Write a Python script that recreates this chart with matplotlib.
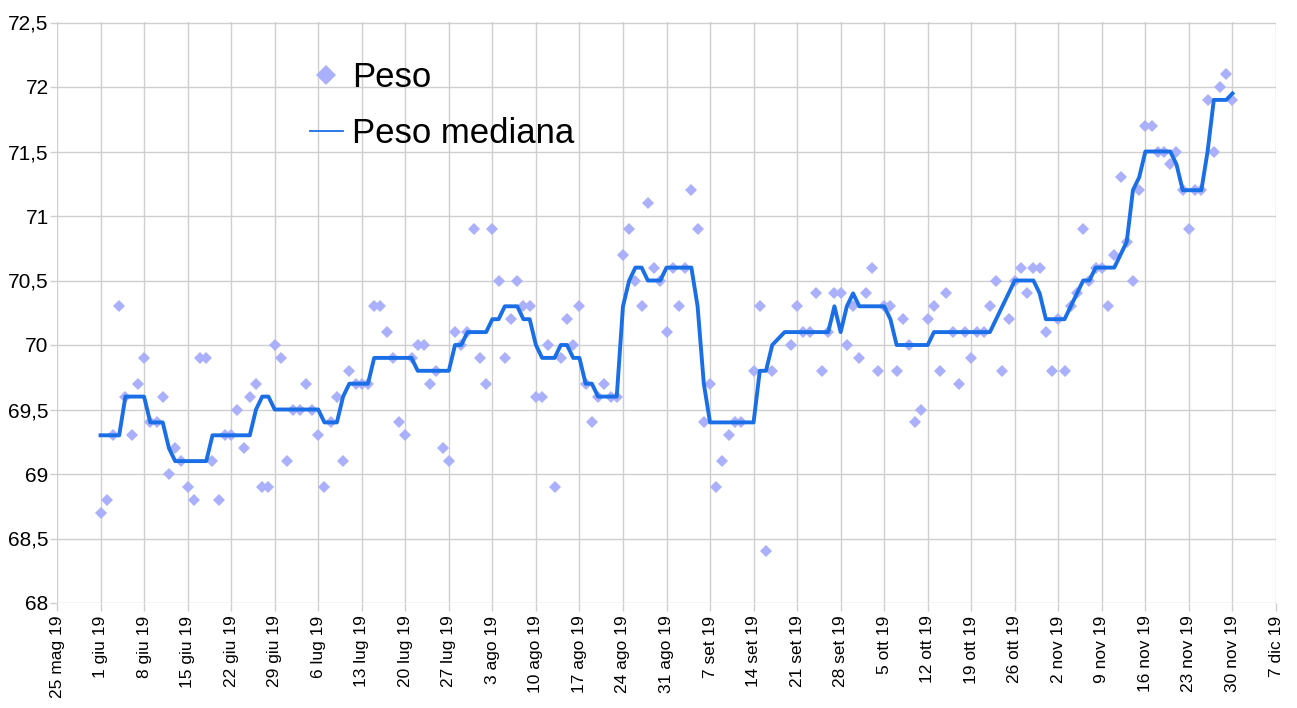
import numpy as np
import pandas as pd
import matplotlib
matplotlib.use("Agg")
import matplotlib.pyplot as plt
from matplotlib.lines import Line2D

plt.rcParams['font.family'] = ['Liberation Sans', 'DejaVu Sans']

nan = np.nan

# daily weight readings, 1 giu 2019 .. 30 nov 2019 (nan = no reading)
start_date = '2019-06-01'
peso = [
    68.7, 68.8, 69.3, 70.3, 69.6, 69.3, 69.7, 69.9, 69.4, 69.4,
    69.6, 69.0, 69.2, 69.1, 68.9, 68.8, 69.9, 69.9, 69.1, 68.8,
    69.3, 69.3, 69.5, 69.2, 69.6, 69.7, 68.9, 68.9, 70.0, 69.9,
    69.1, 69.5, 69.5, 69.7, 69.5, 69.3, 68.9, 69.4, 69.6, 69.1,
    69.8, 69.7, 69.7, 69.7, 70.3, 70.3, 70.1, 69.9, 69.4, 69.3,
    69.9, 70.0, 70.0, 69.7, 69.8, 69.2, 69.1, 70.1, 70.0, 70.1,
    70.9, 69.9, 69.7, 70.9, 70.5, 69.9, 70.2, 70.5, 70.3, 70.3,
    69.6, 69.6, 70.0, 68.9, 69.9, 70.2, 70.0, 70.3, 69.7, 69.4,
    69.6, 69.7, 69.6, 69.6, 70.7, 70.9, 70.5, 70.3, 71.1, 70.6,
    70.5, 70.1, 70.6, 70.3, 70.6, 71.2, 70.9, 69.4, 69.7, 68.9,
    69.1, 69.3, 69.4, 69.4, nan, 69.8, 70.3, 68.4, 69.8, nan,
    nan, 70.0, 70.3, 70.1, 70.1, 70.4, 69.8, 70.1, 70.4, 70.4,
    70.0, 70.3, 69.9, 70.4, 70.6, 69.8, 70.3, 70.3, 69.8, 70.2,
    70.0, 69.4, 69.5, 70.2, 70.3, 69.8, 70.4, 70.1, 69.7, 70.1,
    69.9, 70.1, 70.1, 70.3, 70.5, 69.8, 70.2, 70.5, 70.6, 70.4,
    70.6, 70.6, 70.1, 69.8, 70.2, 69.8, 70.3, 70.4, 70.9, 70.5,
    70.6, 70.6, 70.3, 70.7, 71.3, 70.8, 70.5, 71.2, 71.7, 71.7,
    71.5, 71.5, 71.4, 71.5, 71.2, 70.9, 71.2, 71.2, 71.9, 71.5,
    72.0, 72.1, 71.9,
]

peso_mediana = [
    69.3, 69.3, 69.3, 69.3, 69.6, 69.6, 69.6, 69.6, 69.4, 69.4,
    69.4, 69.2, 69.1, 69.1, 69.1, 69.1, 69.1, 69.1, 69.3, 69.3,
    69.3, 69.3, 69.3, 69.3, 69.3, 69.5, 69.6, 69.6, 69.5, 69.5,
    69.5, 69.5, 69.5, 69.5, 69.5, 69.5, 69.4, 69.4, 69.4, 69.6,
    69.7, 69.7, 69.7, 69.7, 69.9, 69.9, 69.9, 69.9, 69.9, 69.9,
    69.9, 69.8, 69.8, 69.8, 69.8, 69.8, 69.8, 70.0, 70.0, 70.1,
    70.1, 70.1, 70.1, 70.2, 70.2, 70.3, 70.3, 70.3, 70.2, 70.2,
    70.0, 69.9, 69.9, 69.9, 70.0, 70.0, 69.9, 69.9, 69.7, 69.7,
    69.6, 69.6, 69.6, 69.6, 70.3, 70.5, 70.6, 70.6, 70.5, 70.5,
    70.5, 70.6, 70.6, 70.6, 70.6, 70.6, 70.3, 69.7, 69.4, 69.4,
    69.4, 69.4, 69.4, 69.4, 69.4, 69.4, 69.8, 69.8, 70.0, 70.05,
    70.1, 70.1, 70.1, 70.1, 70.1, 70.1, 70.1, 70.1, 70.3, 70.1,
    70.3, 70.4, 70.3, 70.3, 70.3, 70.3, 70.3, 70.2, 70.0, 70.0,
    70.0, 70.0, 70.0, 70.0, 70.1, 70.1, 70.1, 70.1, 70.1, 70.1,
    70.1, 70.1, 70.1, 70.1, 70.2, 70.3, 70.4, 70.5, 70.5, 70.5,
    70.5, 70.4, 70.2, 70.2, 70.2, 70.2, 70.3, 70.4, 70.5, 70.5,
    70.6, 70.6, 70.6, 70.6, 70.7, 70.8, 71.2, 71.3, 71.5, 71.5,
    71.5, 71.5, 71.5, 71.4, 71.2, 71.2, 71.2, 71.2, 71.5, 71.9,
    71.9, 71.9, 71.95,
]

x_tick_start = '2019-05-25'
x_tick_labels = ['25 mag 19', '1 giu 19', '8 giu 19', '15 giu 19', '22 giu 19',
                 '29 giu 19', '6 lug 19', '13 lug 19', '20 lug 19', '27 lug 19',
                 '3 ago 19', '10 ago 19', '17 ago 19', '24 ago 19', '31 ago 19',
                 '7 set 19', '14 set 19', '21 set 19', '28 set 19', '5 ott 19',
                 '12 ott 19', '19 ott 19', '26 ott 19', '2 nov 19', '9 nov 19',
                 '16 nov 19', '23 nov 19', '30 nov 19', '7 dic 19']
y_ticks = [68, 68.5, 69, 69.5, 70, 70.5, 71, 71.5, 72, 72.5]
y_tick_labels = ['68', '68,5', '69', '69,5', '70', '70,5', '71', '71,5', '72', '72,5']

days = pd.date_range(start_date, periods=len(peso), freq='D')
week_ticks = pd.date_range(x_tick_start, periods=len(x_tick_labels), freq='7D')

fig = plt.figure(figsize=(12.97, 7.08), dpi=100)
ax = fig.add_axes([57 / 1297, 1 - 603 / 708, (1276 - 57) / 1297, (603 - 22.5) / 708])

grid_col = '#cfcfcf'
dot_col = '#aab0fb'
line_col = '#1a6fe6'

ax.plot(days, peso, linestyle='none', marker='D', markersize=5.9,
        markeredgewidth=0, color=dot_col, zorder=3)
ax.plot(days, peso_mediana, color=line_col, linewidth=2.8, zorder=4,
        solid_joinstyle='round')

ax.set_xlim(week_ticks[0], week_ticks[-1])
ax.set_ylim(68, 72.5)
ax.set_xticks(week_ticks)
ax.set_xticklabels(x_tick_labels, rotation=90, fontsize=12.5)
ax.set_yticks(y_ticks)
ax.set_yticklabels(y_tick_labels, fontsize=15)

ax.grid(True, color=grid_col, linewidth=1)
ax.set_axisbelow(True)
for s in ax.spines.values():
    s.set_visible(False)
ax.tick_params(axis='x', length=6, width=1, color=grid_col, pad=3)
ax.tick_params(axis='y', length=5, width=1, color=grid_col, pad=1)

handles = [
    Line2D([], [], linestyle='none', marker='D', markersize=10,
           markeredgewidth=0, color=dot_col),
    Line2D([], [], color=line_col, linewidth=1.3),
]
fig.legend(handles, ['Peso', 'Peso mediana'], loc='upper left',
           bbox_to_anchor=(310 / 1297, 1 - 61 / 708), frameon=False,
           borderaxespad=0, borderpad=0,
           fontsize=25, handlelength=0.95, handletextpad=0.26, labelspacing=0.66)

fig.savefig('out.png', dpi=100)
